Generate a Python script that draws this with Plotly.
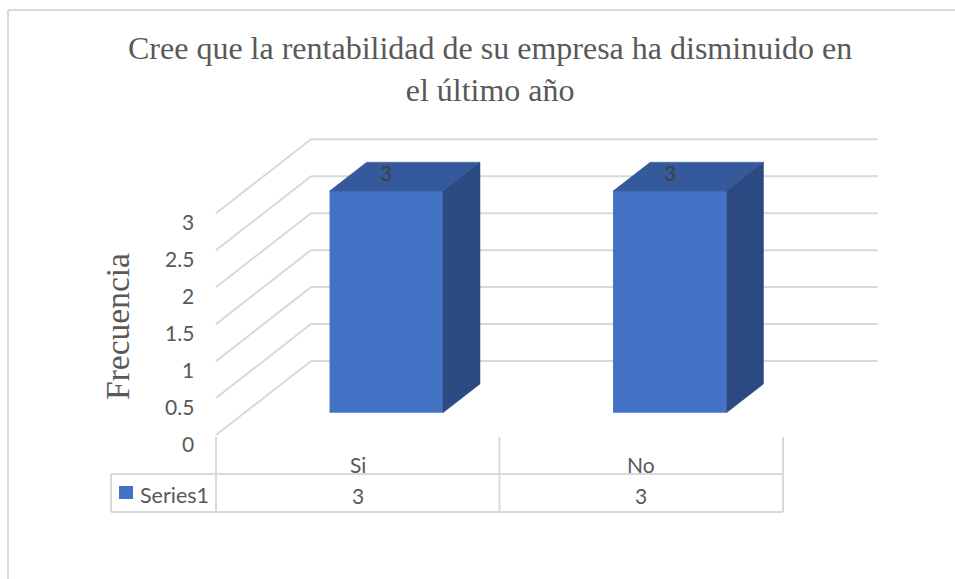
import plotly.graph_objects as go

# ---- data ----
categories = ["Si", "No"]
series_name = "Series1"
values = [3, 3]
y_ticks = [0, 0.5, 1, 1.5, 2, 2.5, 3]
title_text = "Cree que la rentabilidad de su empresa ha disminuido en<br>el último año"
y_title = "Frecuencia"

# ---- canvas / pseudo-3D projection ----
W, H = 955, 579
CAT_PX = 283.5          # pixels per category slot on the front plane
VAL_PX = 73.9           # pixels per value unit
ORIGIN_PX = (216, 435)  # front-left floor corner
DX = 95 / CAT_PX        # depth shift (x, in category units) from front to back wall
DY = 74 / VAL_PX        # depth shift (y, in value units) from front to back wall
BAR_W = 0.4
D_FRONT, D_BACK = 0.30, 0.69

X_RANGE = [-ORIGIN_PX[0] / CAT_PX, (W - ORIGIN_PX[0]) / CAT_PX]
Y_RANGE = [-(H - ORIGIN_PX[1]) / VAL_PX, ORIGIN_PX[1] / VAL_PX]


def proj(c, v, d):
    """category position, value, depth (0 front .. 1 back) -> axis coordinates"""
    return c + d * DX, v + d * DY


def px(x, y):
    """pixel position -> axis coordinates (for frame and table furniture)"""
    return (x - ORIGIN_PX[0]) / CAT_PX, (ORIGIN_PX[1] - y) / VAL_PX


GRID = "#d9d9d9"
TEXT = "#595959"
FRONT = "#4472C4"
TOP = "#345A9C"
SIDE = "#2C4A82"
SANS = "Lato, 'Noto Sans', sans-serif"
SERIF = "'Liberation Serif', 'Times New Roman', serif"

n_cat = len(categories)
shapes = []


def line(p0, p1, color=GRID, width=2):
    shapes.append(dict(type="line", xref="x", yref="y", x0=p0[0], y0=p0[1],
                       x1=p1[0], y1=p1[1], layer="below",
                       line=dict(color=color, width=width)))


# back wall and side wall gridlines
for v in y_ticks:
    line(proj(0, v, 1), proj(n_cat, v, 1))
    line(proj(0, v, 0), proj(0, v, 1))

fig = go.Figure()

# front faces of the bars
centers = [i + 0.5 for i in range(n_cat)]
fig.add_trace(go.Bar(
    x=[proj(c, 0, D_FRONT)[0] for c in centers],
    y=values,
    base=[proj(c, 0, D_FRONT)[1] for c in centers],
    width=BAR_W,
    marker=dict(color=FRONT, line=dict(width=0)),
    hoverinfo="skip",
    showlegend=False,
))

# top and side faces
for c, v in zip(centers, values):
    l, r = c - BAR_W / 2, c + BAR_W / 2
    top = [proj(l, v, D_FRONT), proj(r, v, D_FRONT), proj(r, v, D_BACK), proj(l, v, D_BACK)]
    side = [proj(r, 0, D_FRONT), proj(r, v, D_FRONT), proj(r, v, D_BACK), proj(r, 0, D_BACK)]
    for poly, col in ((top, TOP), (side, SIDE)):
        xs = [p[0] for p in poly] + [poly[0][0]]
        ys = [p[1] for p in poly] + [poly[0][1]]
        fig.add_trace(go.Scatter(x=xs, y=ys, mode="lines", fill="toself",
                                 fillcolor=col, line=dict(color=col, width=0.5),
                                 hoverinfo="skip", showlegend=False))

annotations = []

# data labels
for c, v in zip(centers, values):
    x, y = proj(c, v, D_FRONT)
    annotations.append(dict(x=x, y=y, xref="x", yref="y", text=str(v), showarrow=False,
                            yshift=19, font=dict(family=SANS, size=21, color="#404040")))

# value axis tick labels on the front edge
for v in y_ticks:
    x, y = proj(0, v, 0)
    annotations.append(dict(x=x, y=y, xref="x", yref="y", text=f"{v:g}", showarrow=False,
                            xanchor="right", xshift=-20, yshift=-8,
                            font=dict(family=SANS, size=21, color=TEXT)))

# data table under the chart
tbl_left, tbl_right = 111, ORIGIN_PX[0] + n_cat * CAT_PX
row_top, row_bot, tick_top = 474, 512, 437
line(px(tbl_left, row_top), px(tbl_right, row_top))
line(px(tbl_left, row_bot), px(tbl_right, row_bot))
line(px(tbl_left, row_top), px(tbl_left, row_bot))
for i in range(n_cat + 1):
    line((i, px(0, tick_top)[1]), (i, px(0, row_bot)[1]))

for c, cat, v in zip(centers, categories, values):
    annotations.append(dict(x=c, y=px(0, 464)[1], xref="x", yref="y", text=cat, showarrow=False,
                            font=dict(family=SANS, size=21, color=TEXT)))
    annotations.append(dict(x=c, y=px(0, 495)[1], xref="x", yref="y", text=str(v), showarrow=False,
                            font=dict(family=SANS, size=21, color=TEXT)))

# legend key in the table
k0, k1 = px(119, 486), px(133, 499)
shapes.append(dict(type="rect", xref="x", yref="y", x0=k0[0], y0=k0[1], x1=k1[0], y1=k1[1],
                   fillcolor=FRONT, line=dict(width=0), layer="above"))
annotations.append(dict(x=px(138, 0)[0], y=px(0, 495)[1], xref="x", yref="y", text=series_name,
                        showarrow=False, xanchor="left",
                        font=dict(family=SANS, size=21.5, color=TEXT)))

# axis title and chart title
annotations.append(dict(x=px(117, 0)[0], y=px(0, 327)[1], xref="x", yref="y", text=y_title,
                        showarrow=False, textangle=-90,
                        font=dict(family=SERIF, size=33.5, color=TEXT)))
annotations.append(dict(x=px(490, 0)[0], y=px(0, 69)[1], xref="x", yref="y", text=title_text,
                        showarrow=False, font=dict(family=SERIF, size=32, color=TEXT)))

# chart area border (top and left edges)
f0, f1, f2 = px(8, 10), px(W + 5, 10), px(8, H + 5)
shapes.append(dict(type="line", xref="x", yref="y", x0=f0[0], y0=f0[1], x1=f1[0], y1=f1[1],
                   line=dict(color=GRID, width=2)))
shapes.append(dict(type="line", xref="x", yref="y", x0=f0[0], y0=f0[1], x1=f2[0], y1=f2[1],
                   line=dict(color=GRID, width=2)))

fig.update_layout(
    width=W, height=H, autosize=False,
    margin=dict(l=0, r=0, t=0, b=0, pad=0),
    paper_bgcolor="white", plot_bgcolor="white",
    xaxis=dict(range=X_RANGE, visible=False, fixedrange=True),
    yaxis=dict(range=Y_RANGE, visible=False, fixedrange=True),
    shapes=shapes, annotations=annotations,
    showlegend=False,
)

fig.write_html("out.html")
